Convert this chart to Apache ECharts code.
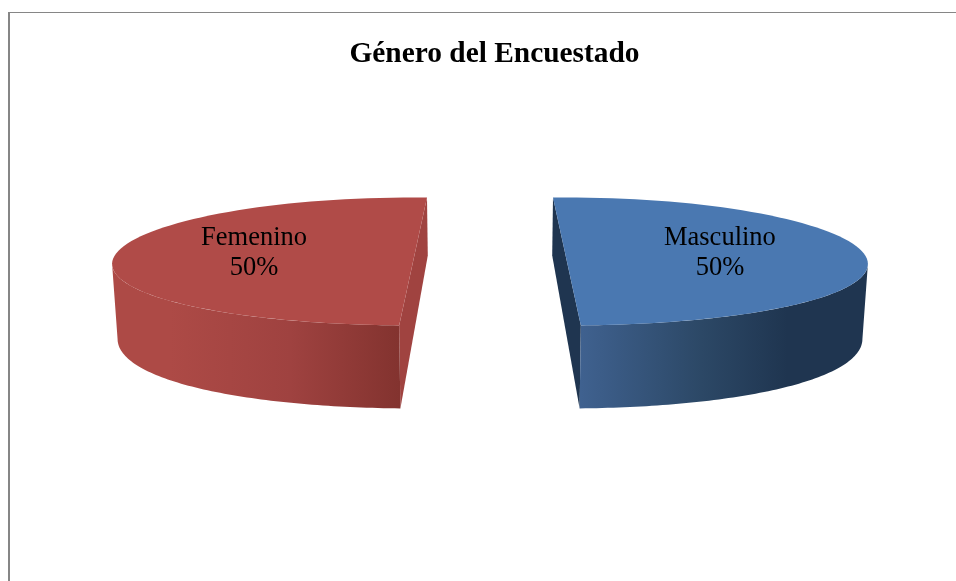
<!DOCTYPE html>
<html>
<head>
<meta charset="utf-8">
<style>html,body{margin:0;padding:0;background:#fff}#c{width:956px;height:581px}</style>
<script src="https://cdn.jsdelivr.net/npm/echarts@6/dist/echarts.min.js"></script>
</head>
<body>
<div id="c"></div>
<script>
var titleText = 'Género del Encuestado';
var categories = ['Masculino', 'Femenino'];
var shares = [50, 50];

var topColors = ['#4a78b1', '#b04b48'];
var cutColors = ['#1f3550', '#a04340'];
var wallStops = [
  [[0, '#3f618f'], [0.42, '#2c4866'], [0.72, '#1f3550'], [1, '#1f3550']],
  [[0, '#ad4a46'], [0.2, '#ad4a46'], [0.62, '#9f4240'], [1, '#83332f']]
];
var labelOffsets = [[153, -8], [-159, -8]];
var perspectiveLean = [-2.65, 2.65];

var scene = { cx: 490, cy: 261.5, rx: 301, ry: 64, sag: 2.5, explode: 77, startDeg: -90,
              bottomExplode: 76, bottomDy: 70.5, bottomRx: 296.5, bottomRy: 76.5, bottomSag: 7 };

var total = shares.reduce(function (a, b) { return a + b; }, 0);
var starts = [];
shares.reduce(function (acc, v, i) { starts[i] = acc; return acc + v; }, 0);

function rad(d) { return d * Math.PI / 180; }

function arc(c, rx, ry, sag, from, to) {
  var pts = [], n = 80;
  for (var i = 0; i <= n; i++) {
    var t = rad(from + (to - from) * i / n);
    var co = Math.cos(t);
    pts.push([c[0] + rx * co, c[1] + ry * Math.sin(t) + sag * co * co]);
  }
  return pts;
}

function renderSlice(params, api) {
  var i = params.dataIndex;
  var a0 = scene.startDeg + 360 * starts[i] / total + perspectiveLean[i];
  var a1 = a0 + 360 * api.value(0) / total;
  var mid = rad((a0 + a1) / 2);
  var ct = [scene.cx + scene.explode * Math.cos(mid), scene.cy];
  var cb = [scene.cx + scene.bottomExplode * Math.cos(mid), scene.cy + scene.bottomDy];

  function bottomArc(from, to) {
    return arc(cb, scene.bottomRx, scene.bottomRy, scene.bottomSag, from, to);
  }
  function topArc(from, to) {
    return arc(ct, scene.rx, scene.ry, scene.sag, from, to);
  }

  var topShape = topArc(a0, a1);
  var cut = [
    topShape[0],
    topShape[topShape.length - 1],
    bottomArc(a1, a1)[0],
    bottomArc(a0, a0)[0]
  ];

  var w0 = Math.max(a0, 0), w1 = Math.min(a1, 180);
  var wallTop = topArc(w0, w1);
  var wallBot = bottomArc(w0, w1).reverse();
  var xs = wallTop.map(function (p) { return p[0]; });
  var leftX = Math.min.apply(null, xs), rightX = Math.max.apply(null, xs);
  var stops = wallStops[i].map(function (s) { return { offset: s[0], color: s[1] }; });
  var wallFill = new echarts.graphic.LinearGradient(leftX, 0, rightX, 0, stops, true);

  return {
    type: 'group',
    children: [
      { type: 'polygon', shape: { points: cut }, style: { fill: cutColors[i] } },
      { type: 'polygon', shape: { points: wallTop.concat(wallBot) }, style: { fill: wallFill } },
      { type: 'polygon', shape: { points: topShape }, style: { fill: topColors[i] } },
      { type: 'text', x: ct[0] + labelOffsets[i][0], y: ct[1] + labelOffsets[i][1],
        style: {
          text: categories[i] + '\n' + api.value(0) + '%',
          fill: '#000', align: 'center', verticalAlign: 'middle',
          font: '26.5px "Liberation Serif"', lineHeight: 30
        } }
    ]
  };
}

var chart = echarts.init(document.getElementById('c'), null, { renderer: 'canvas' });
chart.setOption({
  animation: false,
  backgroundColor: '#fff',
  title: {
    text: titleText, left: 489.5, top: 35, textAlign: 'center',
    textStyle: { fontFamily: 'Liberation Serif', fontWeight: 'bold', fontSize: 29.4, color: '#000' }
  },
  graphic: [
    { type: 'rect', shape: { x: 8, y: 12, width: 948, height: 1 }, style: { fill: '#868686' }, silent: true },
    { type: 'rect', shape: { x: 8, y: 12, width: 2, height: 569 }, style: { fill: '#868686' }, silent: true }
  ],
  series: [{
    type: 'custom',
    coordinateSystem: 'none',
    renderItem: renderSlice,
    data: shares.map(function (v, i) { return { name: categories[i], value: [v] }; })
  }]
});
</script>
</body>
</html>
